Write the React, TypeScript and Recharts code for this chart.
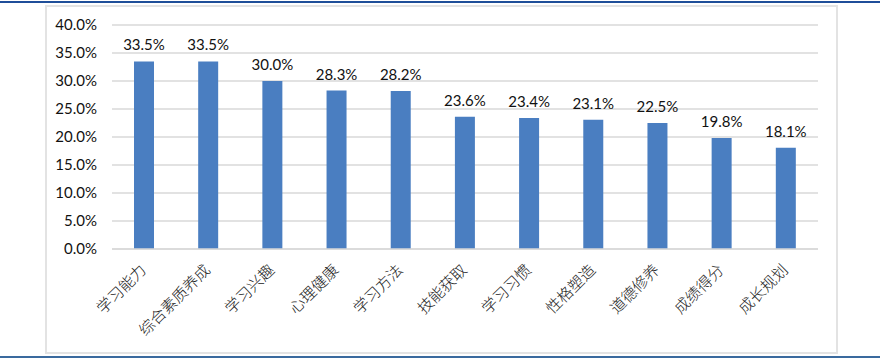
import React from "react";
import { BarChart, Bar, XAxis, YAxis, CartesianGrid, LabelList } from "recharts";

const categories = ["学习能力", "综合素质养成", "学习兴趣", "心理健康", "学习方法", "技能获取", "学习习惯", "性格塑造", "道德修养", "成绩得分", "成长规划"];
const values = [33.5, 33.5, 30.0, 28.3, 28.2, 23.6, 23.4, 23.1, 22.5, 19.8, 18.1];
const yTicks = [0, 5, 10, 15, 20, 25, 30, 35, 40];

const data = categories.map((name, i) => ({ name, value: values[i] }));

const XTick = (props: any) => {
  const { x, y, payload } = props;
  return (
    <text
      x={x + 3}
      y={y + 20}
      textAnchor="end"
      transform={`rotate(-45, ${x + 3}, ${y + 20})`}
      fontSize={15.5}
      fontFamily="'Noto Sans CJK SC', sans-serif"
      fontWeight={300}
      fill="#222"
    >
      {payload.value}
    </text>
  );
};

export default function App() {
  return (
    <div style={{ position: "absolute", left: 0, top: 0, width: 880, height: 363, background: "#fff", overflow: "hidden" }}>
      <div style={{ position: "absolute", left: 0, top: 1, width: 880, height: 2, background: "#1F4E99" }} />
      <div style={{ position: "absolute", left: 45, top: 5, width: 789, height: 345, border: "2px solid #E3E3E3" }} />
      <div style={{ position: "absolute", left: 0, top: 356, width: 880, height: 2, background: "#3A6A9E" }} />
      <div style={{ position: "absolute", left: 0, top: 0 }}>
        <BarChart
          width={880}
          height={363}
          data={data}
          margin={{ top: 25, right: 62, bottom: 0, left: 0 }}
          barCategoryGap={0}
        >
          <CartesianGrid vertical={false} stroke="#D9D9D9" strokeWidth={1.5} />
          <XAxis
            dataKey="name"
            height={114}
            interval={0}
            tickLine={false}
            tickSize={0}
            axisLine={{ stroke: "#D9D9D9", strokeWidth: 1.5 }}
            tick={<XTick />}
          />
          <YAxis
            width={112}
            domain={[0, 40]}
            ticks={yTicks}
            tickLine={false}
            axisLine={false}
            tickSize={0}
            tickMargin={15}
            tickFormatter={(v: number) => `${v.toFixed(1)}%`}
            tick={{ fontSize: 15, fill: "#111", fontFamily: "Lato, 'Liberation Sans', sans-serif" }}
          />
          <Bar dataKey="value" fill="#4A7EC1" barSize={20} isAnimationActive={false}>
            <LabelList
              dataKey="value"
              position="top"
              offset={11}
              formatter={(v: number) => `${v.toFixed(1)}%`}
              style={{ fontSize: 15, fill: "#111", fontFamily: "Lato, 'Liberation Sans', sans-serif" }}
            />
          </Bar>
        </BarChart>
      </div>
    </div>
  );
}
